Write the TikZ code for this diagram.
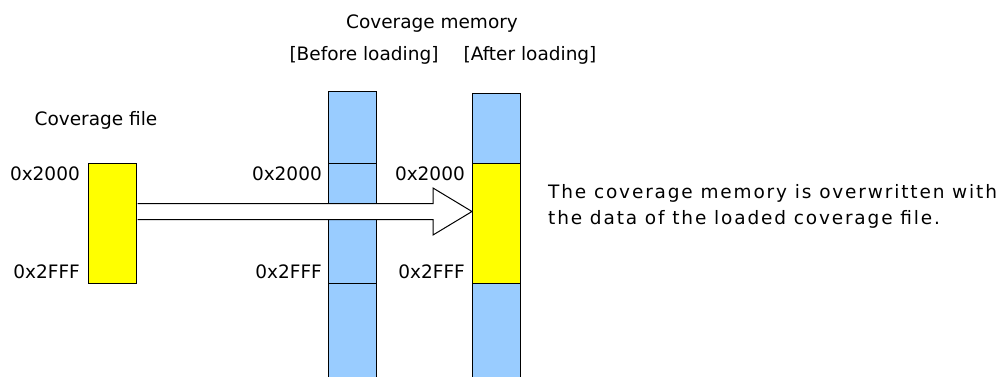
\documentclass[tikz,border=0pt]{standalone}
\usepackage{fontspec}
\setmainfont{DejaVu Sans}
\usetikzlibrary{calc}
\definecolor{memblue}{RGB}{153,204,255}
\definecolor{datyellow}{RGB}{255,255,0}

\begin{document}
\begin{tikzpicture}[x=1pt, y=-1pt,
    blk/.style={draw, line width=1pt, minimum width=48pt, inner sep=0pt, anchor=north west},
    mem/.style={blk, fill=memblue},
    dat/.style={blk, fill=datyellow},
    adr/.style={font=\fontsize{18.5}{26}\selectfont, anchor=base east, inner sep=0pt},
    ttl/.style={font=\fontsize{18.5}{26}\selectfont, anchor=base, inner sep=0pt},
    bigarr/.style={draw, line width=1pt, fill=white, line join=miter}
]
\useasboundingbox (0,0) rectangle (1004,376);

% coverage file
\node[dat, minimum height=120pt] (file) at (88,163) {};
\node[ttl] (filettl) at (96,125) {Coverage file};
\node[adr] (f2000) at ($(file.north west)+(-8,17)$) {0x2000};
\node[adr] (f2fff) at ($(file.south west)+(-8,-6)$) {0x2FFF};

% memory before loading
\node[mem, minimum height=72pt] (btop) at (328,91) {};
\node[mem, minimum height=120pt] (bmid) at (328,163) {};
\node[mem, minimum height=100pt] (bbot) at (328,283) {};
\node[adr] (b2000) at ($(bmid.north west)+(-6,17)$) {0x2000};
\node[adr] (b2fff) at ($(bmid.south west)+(-6,-6)$) {0x2FFF};

% memory after loading
\node[mem, minimum height=70pt] (atop) at (472,93) {};
\node[dat, minimum height=120pt] (amid) at (472,163) {};
\node[mem, minimum height=100pt] (abot) at (472,283) {};
\node[adr] (a2000) at ($(amid.north west)+(-7,17)$) {0x2000};
\node[adr] (a2fff) at ($(amid.south west)+(-7,-6)$) {0x2FFF};

\node[ttl] (memttl) at (432,28) {Coverage memory};
\node[ttl] (befttl) at (364,60) {[Before loading]};
\node[ttl] (aftttl) at (530,60) {[After loading]};

% load arrow
\coordinate (tip) at ($(amid.west)+(0,-12)$);
\draw[bigarr] ($(file.east)+(0.5,-20)$) -- ($(tip)+(-39,-8)$) -- ($(tip)+(-39,-23.5)$)
  -- (tip) -- ($(tip)+(-39,23.5)$) -- ($(tip)+(-39,8)$) -- ($(file.east)+(0.5,-4)$);

\node[font=\fontsize{18.5}{26}\selectfont\addfontfeature{LetterSpace=10}, align=left, anchor=west, inner sep=0pt] (note) at (548,206)
  {The coverage memory is overwritten with\\the data of the loaded coverage file.};
\end{tikzpicture}
\end{document}
